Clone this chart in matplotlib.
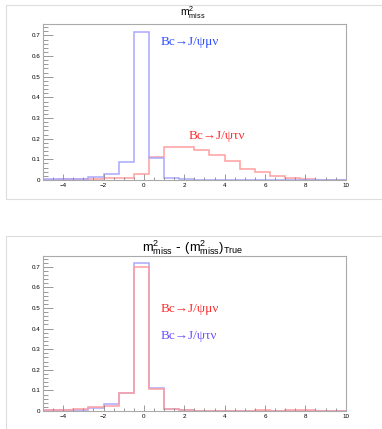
import numpy as np
import matplotlib.pyplot as plt
from matplotlib.patches import Rectangle
from matplotlib.ticker import MultipleLocator

# bin edges: 20 bins from -5 to 10
edges = np.linspace(-5, 10, 21)

# top pad: m2_miss
top_mu = [0.003, 0.003, 0.007, 0.013, 0.028, 0.085, 0.717, 0.107, 0.011, 0.003,
          0.001, 0.001, 0.0005, 0.0005, 0.0005, 0.0005, 0.002, 0.0005, 0.0, 0.0]
top_tau = [0.002, 0.003, 0.004, 0.006, 0.01, 0.011, 0.029, 0.11, 0.16, 0.16,
           0.146, 0.123, 0.093, 0.054, 0.038, 0.02, 0.009, 0.003, 0.001, 0.001]

# bottom pad: m2_miss - (m2_miss)_True
bot_mu = [0.003, 0.006, 0.008, 0.017, 0.024, 0.087, 0.70, 0.106, 0.009, 0.004,
          0.002, 0.002, 0.002, 0.002, 0.003, 0.002, 0.003, 0.003, 0.001, 0.001]
bot_tau = [0.005, 0.005, 0.006, 0.013, 0.032, 0.088, 0.72, 0.11, 0.012, 0.005,
           0.002, 0.001, 0.001, 0.001, 0.001, 0.001, 0.001, 0.001, 0.0, 0.0]

W, H = 382, 429
fig = plt.figure(figsize=(W / 100, H / 100), dpi=100)
plt.rcParams['font.family'] = ['Liberation Sans', 'DejaVu Sans']
serif = ['Liberation Serif', 'DejaVu Serif']


def frac(x0, y0, x1, y1):
    return [x0 / W, 1 - y1 / H, (x1 - x0) / W, (y1 - y0) / H]


# pad borders
for y0, y1 in [(5, 199), (236, 440)]:
    fig.patches.append(Rectangle((6 / W, 1 - y1 / H), 1.0, (y1 - y0) / H,
                                 transform=fig.transFigure, fill=False,
                                 edgecolor='#dddddd', linewidth=0.8))


def style(ax):
    ax.set_xlim(-5, 10)
    ax.set_ylim(0, 0.754)
    ax.xaxis.set_major_locator(MultipleLocator(2))
    ax.xaxis.set_minor_locator(MultipleLocator(0.5))
    ax.yaxis.set_minor_locator(MultipleLocator(0.02))
    ax.tick_params(which='both', direction='in', top=False, right=False,
                   labelsize=4.5, color='#888888', width=0.6, pad=2)
    ax.tick_params(axis='x', which='major', length=4)
    ax.tick_params(axis='x', which='minor', length=2)
    ax.tick_params(axis='y', which='major', length=7)
    ax.tick_params(axis='y', which='minor', length=3.5)
    ax.set_yticks(np.arange(0, 0.71, 0.1))
    ax.set_yticklabels(['0'] + ['%.1f' % v for v in np.arange(0.1, 0.71, 0.1)])
    for s in ax.spines.values():
        s.set_color('#aaaaaa')
        s.set_linewidth(0.8)


ax1 = fig.add_axes(frac(43, 24.3, 345.7, 180))
ax1.stairs(top_tau, edges, color='#ff9f9f', linewidth=1.1)
ax1.stairs(top_mu, edges, color='#a8a8ff', linewidth=1.1)
style(ax1)
ax1.text(0.39, 0.87, 'Bc→J/ψμν', transform=ax1.transAxes, color='#3050ff',
         fontsize=9.5, family=serif)
ax1.text(0.48, 0.265, 'Bc→J/ψτν', transform=ax1.transAxes, color='#ff3030',
         fontsize=9.5, family=serif)
fig.text(193 / W, 1 - 13 / H, r'$\mathregular{m^{2}_{miss}}$', ha='center',
         va='center', fontsize=7.5)

ax2 = fig.add_axes(frac(43, 255.7, 345.7, 411))
ax2.stairs(bot_tau, edges, color='#a8a8ff', linewidth=1.1)
ax2.stairs(bot_mu, edges, color='#ff9f9f', linewidth=1.1)
style(ax2)
ax2.text(0.39, 0.64, 'Bc→J/ψμν', transform=ax2.transAxes, color='#ff3030',
         fontsize=9.5, family=serif)
ax2.text(0.39, 0.465, 'Bc→J/ψτν', transform=ax2.transAxes, color='#7050ff',
         fontsize=9.5, family=serif)
fig.text(193 / W, 1 - 248 / H,
         r'$\mathregular{m^{2}_{miss}\ \text{-}\ (m^{2}_{miss})_{True}}$',
         ha='center', va='center', fontsize=9.3)

fig.savefig('out.png', dpi=100)
